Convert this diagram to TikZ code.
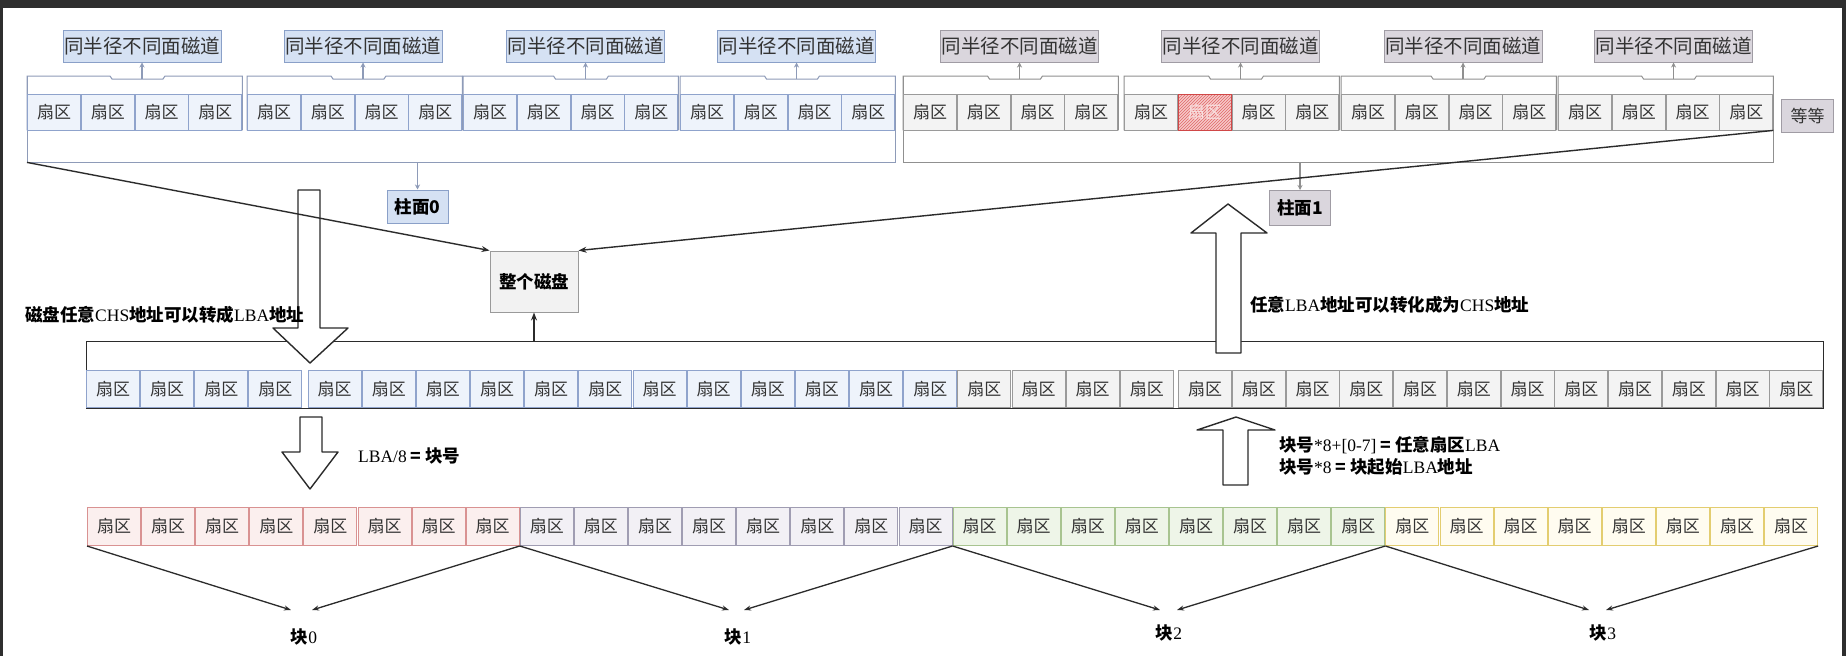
\documentclass[tikz,border=0pt]{standalone}
\usepackage{fontspec}
\usetikzlibrary{arrows.meta,patterns}
\newfontfamily\cjk{Noto Sans CJK SC}
\newfontfamily\tms{Liberation Serif}
\newcommand\lat[1]{{\tms\mdseries #1}}
\definecolor{bluesec}{HTML}{8FA3CC}
\definecolor{bluesecf}{HTML}{EEF3FB}
\definecolor{trkA}{HTML}{8E9BB8}
\definecolor{bluelab}{HTML}{D5E1F3}
\definecolor{bluelabs}{HTML}{8AA0C8}
\definecolor{graysec}{HTML}{9A9A9A}
\definecolor{graysecf}{HTML}{F3F3F3}
\definecolor{trkB}{HTML}{909090}
\definecolor{graylab}{HTML}{DAD6DD}
\definecolor{graylabs}{HTML}{A09CA4}
\definecolor{hatchs}{HTML}{D04848}
\definecolor{hatchf}{HTML}{F6CACA}
\definecolor{hatchl}{HTML}{E06868}
\definecolor{hatcht}{HTML}{F8E0E0}
\definecolor{diskf}{HTML}{F2F2F2}
\definecolor{disks}{HTML}{9A9A9A}
\definecolor{redf}{HTML}{FBEFEE}
\definecolor{reds}{HTML}{D99292}
\definecolor{purf}{HTML}{F2F0F5}
\definecolor{purs}{HTML}{A09DB2}
\definecolor{grnf}{HTML}{EEF5E8}
\definecolor{grns}{HTML}{A8C490}
\definecolor{yelf}{HTML}{FFFCF0}
\definecolor{yels}{HTML}{E3CD70}
\definecolor{txtc}{HTML}{333333}
\definecolor{linec}{HTML}{2B2B2B}
\definecolor{framec}{HTML}{2E2E2E}
\tikzset{
  sec/.style={anchor=north west, minimum width=53pt, minimum height=36pt, inner sep=0pt,
    line width=1pt, font=\cjk\fontsize{17}{18}\selectfont, text=txtc},
  hatched/.style={draw=hatchs, preaction={fill=hatchf}, pattern=north east lines,
    pattern color=hatchl, text=hatcht},
  lab/.style={minimum width=158pt, minimum height=32pt, inner sep=0pt, line width=1pt,
    font=\cjk\fontsize{19.5}{20}\selectfont, text=txtc},
  boldtxt/.style={inner sep=0pt, font=\cjk\bfseries\fontsize{17.5}{22}\selectfont, text=black},
  conn/.style={draw=linec, line width=1.4pt, -{Stealth[length=8pt,width=6pt]}},
  thinarr/.style={line width=1.2pt, -{Stealth[length=5pt,width=5pt]}},
  bconn/.style={draw=linec, line width=1.3pt, -{Stealth[length=7pt,width=5pt]}},
  hollow/.style={draw=linec, fill=white, line width=1.4pt, line join=round},
}
\begin{document}
\begin{tikzpicture}[x=1pt,y=-1pt]
\useasboundingbox (0,0) rectangle (1846,656);
\fill[white] (0,0) rectangle (1846,656);
\fill[framec] (0,0) rectangle (1846,8);
\fill[framec] (0,0) rectangle (3,656);
\fill[framec] (1842,0) rectangle (1846,656);

% cylinders
\node[anchor=north west, minimum width=868pt, minimum height=86pt, inner sep=0pt] (cyl0) at (27,76) {};
\draw[trkA, line width=1pt] (cyl0.north west) -- (cyl0.south west) -- (cyl0.south east) -- (cyl0.north east);
\node[anchor=north west, minimum width=870pt, minimum height=86pt, inner sep=0pt] (cyl1) at (903,76) {};
\draw[trkB, line width=1pt] (cyl1.north west) -- (cyl1.south west) -- (cyl1.south east) -- (cyl1.north east);

% tracks
\foreach \k/\tx/\lx in {1/27/142,2/247/363,3/463/585.5,4/680/796.5,5/903/1019.5,6/1124/1240.5,7/1341/1463,8/1558/1673.5}{
  \ifnum\k<5
    \def\ss{bluesec}\def\sf{bluesecf}\def\ls{bluelabs}\def\lf{bluelab}\def\tl{trkA}
  \else
    \def\ss{graysec}\def\sf{graysecf}\def\ls{graylabs}\def\lf{graylab}\def\tl{trkB}
  \fi
  \node[anchor=north west, minimum width=215pt, minimum height=54pt, inner sep=0pt] (trk\k) at (\tx,76) {};
  \draw[draw=\tl, line width=1pt] (trk\k.south west) -- (trk\k.north west) -- (\lx-32,76) -- (\lx-30,79)
     -- (\lx+21,79) -- (\lx+23,76) -- (trk\k.north east) -- (trk\k.south east);
  \foreach \s in {0,...,3}{
    \ifnum\k\s=61
      \node[sec, hatched] (s\k-\s) at (\tx+\s*53.75,94) {扇区};
    \else
      \node[sec, draw=\ss, fill=\sf] (s\k-\s) at (\tx+\s*53.75,94) {扇区};
    \fi
  }
  \node[lab, draw=\ls, fill=\lf] (lab\k) at (\lx,46) {同半径不同面磁道};
  \coordinate (n\k) at (\lx,79);
  \draw[thinarr, draw=\tl] (n\k) -- (lab\k.south);
}

\node[anchor=north west, minimum width=52pt, minimum height=33pt, inner sep=0pt, draw=graylabs, fill=graylab,
  line width=1pt, font=\cjk\fontsize{17}{18}\selectfont, text=txtc] (etc) at (1781,99) {等等};

% cylinder labels
\node[boldtxt, draw=bluelabs, fill=bluelab, line width=1pt, minimum width=61pt, minimum height=33pt] (c0) at (417.5,206.5) {柱面0};
\node[boldtxt, draw=graylabs, fill=graylab, line width=1pt, minimum width=61pt, minimum height=35pt] (c1) at (1300,208) {柱面1};
\draw[thinarr, draw=trkA] (cyl0.south -| c0) -- (c0.north);
\draw[thinarr, draw=trkB] (cyl1.south -| c1) -- (c1.north);

% whole disk
\node[boldtxt, draw=disks, fill=diskf, line width=1pt, minimum width=88pt, minimum height=61pt] (disk) at (534,281.5) {整个磁盘};

% LBA row
\node[anchor=north west, draw=linec, line width=1.3pt, minimum width=1737pt, minimum height=67pt, inner sep=0pt] (lba) at (86,341) {};
\foreach \i in {0,...,19}{
  \ifnum\i<16 \def\ss{bluesec}\def\sf{bluesecf}\else \def\ss{graysec}\def\sf{graysecf}\fi
  \ifnum\i<4 \def\gap{0}\else \def\gap{5}\fi
  \node[sec, minimum height=37pt, draw=\ss, fill=\sf] (m\i) at (86+\i*54.15+\gap,370) {扇区};
}
\foreach \j in {0,...,11}{
  \pgfmathtruncatemacro\n{20+\j}
  \node[sec, minimum height=37pt, draw=graysec, fill=graysecf] (m\n) at (1178+\j*53.75,370) {扇区};
}

% block row
\foreach \i in {0,...,31}{
  \pgfmathtruncatemacro\g{int(\i/8)}
  \ifcase\g \def\ss{reds}\def\sf{redf}\or \def\ss{purs}\def\sf{purf}\or \def\ss{grns}\def\sf{grnf}\or \def\ss{yels}\def\sf{yelf}\fi
  \node[sec, minimum height=38pt, draw=\ss, fill=\sf] (b\i) at (87+\i*54.1,507) {扇区};
}

% hollow arrows
\draw[hollow] (298,190) -- (320,190) -- (320,328) -- (348,328) -- (310,363) -- (273,328) -- (298,328) -- cycle;
\draw[hollow] (300,417) -- (322,417) -- (322,452) -- (338,452) -- (310,489) -- (282,452) -- (300,452) -- cycle;
\draw[hollow] (1216,353) -- (1241,353) -- (1241,233) -- (1267,233) -- (1228,204) -- (1191,233) -- (1216,233) -- cycle;
\draw[hollow] (1223,485) -- (1248,485) -- (1248,430) -- (1275,430) -- (1236,417) -- (1197,430) -- (1223,430) -- cycle;

% connectors to whole disk
\draw[conn] (cyl0.south west) -- (disk.north west);
\draw[conn] (trk8.south east) -- (disk.north east);
\draw[conn] (lba.north -| disk) -- (disk.south);

% texts
\node[boldtxt, anchor=west] (chs2lba) at (25,315) {磁盘任意\lat{CHS}地址可以转成\lat{LBA}地址};
\node[boldtxt, anchor=west] (lba2chs) at (1250,305) {任意\lat{LBA}地址可以转化成为\lat{CHS}地址};
\node[boldtxt, anchor=west] (div8) at (358,456) {\lat{LBA/8} = 块号};
\node[boldtxt, anchor=west, align=left] (mul8) at (1279,456) {块号\lat{*8+[0-7]} = 任意扇区\lat{LBA}\\块号\lat{*8} = 块起始\lat{LBA}地址};

% blocks
\foreach \n/\a/\b/\bx/\by/\dl/\dr in {0/0/7/304/637/-13/8, 1/8/15/738/637/-9/6, 2/16/23/1169/633/-9/8, 3/24/31/1603/633/-14/3}{
  \node[boldtxt] (k\n) at (\bx,\by) {块\lat{\n}};
  \coordinate (kl\n) at (\bx+\dl,610);
  \coordinate (kr\n) at (\bx+\dr,610);
  \draw[bconn] (b\a.south west) -- (kl\n);
  \draw[bconn] (b\b.south east) -- (kr\n);
}
\end{tikzpicture}
\end{document}
